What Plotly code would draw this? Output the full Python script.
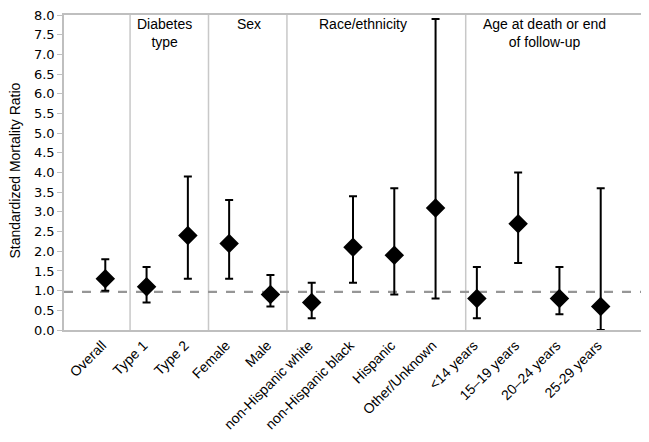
import plotly.graph_objects as go

categories = ["Overall", "Type 1", "Type 2", "Female", "Male", "non-Hispanic white",
              "non-Hispanic black", "Hispanic", "Other/Unknown", "<14 years",
              "15–19 years", "20–24 years", "25-29 years"]
smr = [1.3, 1.1, 2.4, 2.2, 0.9, 0.7, 2.1, 1.9, 3.1, 0.8, 2.7, 0.8, 0.6]
ci_low = [1.0, 0.7, 1.3, 1.3, 0.6, 0.3, 1.2, 0.9, 0.8, 0.3, 1.7, 0.4, 0.0]
ci_high = [1.8, 1.6, 3.9, 3.3, 1.4, 1.2, 3.4, 3.6, 7.9, 1.6, 4.0, 1.6, 3.6]
group_labels = ["Diabetes<br>type", "Sex", "Race/ethnicity", "Age at death or end<br>of follow-up"]
group_label_x = [2.43, 4.49, 7.23, 11.65]
separators_x = [1.6, 3.5, 5.4, 9.73]
reference_line = 0.97
y_ticks = [i * 0.5 for i in range(17)]

xpos = list(range(1, len(categories) + 1))

# page body has an 8px default margin; size the figure to compensate
W, H = 641, 434
ML, MR, MT, MB = 56, 7, 7, 112
PH = H - MB - MT

fig = go.Figure()
fig.add_trace(go.Scatter(
    x=xpos, y=smr, mode="markers",
    marker=dict(symbol="diamond", size=15, color="black"),
    error_y=dict(type="data", symmetric=False,
                 array=[h - v for h, v in zip(ci_high, smr)],
                 arrayminus=[v - l for v, l in zip(smr, ci_low)],
                 color="black", thickness=2, width=4),
    showlegend=False, cliponaxis=False,
))

for sx in separators_x:
    fig.add_shape(type="line", x0=sx, x1=sx, y0=0, y1=8, xref="x", yref="y",
                  line=dict(color="#c8c8c8", width=1.5), layer="below")

fig.add_shape(type="line", x0=0, x1=14, y0=reference_line, y1=reference_line,
              xref="x", yref="y", line=dict(color="#969696", width=2.2, dash="dash"),
              layer="below")

for lab, gx in zip(group_labels, group_label_x):
    fig.add_annotation(x=gx, y=1 + 1 / PH, xref="x", yref="paper", text=lab, showarrow=False,
                       yanchor="top", font=dict(family="Liberation Sans, Arial", size=14, color="black"))

fig.add_annotation(xref="paper", yref="paper",
                   x=(6.5 - ML) / (W - ML - MR), y=(H - MB - 163) / PH,
                   text="Standardized Mortality Ratio",
                   showarrow=False, textangle=-90, xanchor="center", yanchor="middle",
                   font=dict(family="Liberation Sans, Arial", size=14, color="black"))

fig.update_layout(
    width=W, height=H,
    margin=dict(l=ML, r=MR, t=MT, b=MB, autoexpand=False),
    paper_bgcolor="white", plot_bgcolor="white",
    xaxis=dict(range=[0, 14], tickvals=xpos, ticktext=categories, tickangle=-45,
               automargin=False, ticklabeloverflow="allow", ticklen=0, ticklabelshift=-3,
               showgrid=False, zeroline=False, showline=True, linecolor="#bfbfbf",
               linewidth=1.5, mirror=True, ticks="",
               tickfont=dict(family="Liberation Sans, Arial", size=14, color="black")),
    yaxis=dict(range=[0, 8], tickvals=y_ticks, ticktext=[f"{v:.1f}" for v in y_ticks],
               automargin=False, ticklabeloverflow="allow",
               showgrid=False, zeroline=False, showline=True, linecolor="#bfbfbf",
               linewidth=1.5, mirror=True, ticks="outside", ticklen=5, tickcolor="#bfbfbf",
               tickfont=dict(family="DejaVu Sans", size=13, color="black")),
)

fig.write_html("out.html")
